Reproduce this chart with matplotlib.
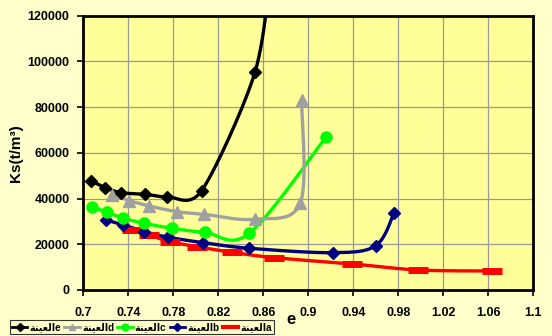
import numpy as np
import matplotlib
matplotlib.use("Agg")
import matplotlib.pyplot as plt
from matplotlib.lines import Line2D

# void ratio e vs Ks for each sample
e_a = [0.743, 0.758, 0.777, 0.801, 0.832, 0.8695, 0.9393, 0.9975, 1.063]
ks_a = [26260, 24070, 21140, 18950, 16500, 14140, 11380, 8750, 8310]

e_b = [0.7202, 0.7356, 0.7542, 0.7756, 0.8067, 0.8476, 0.9222, 0.9599, 0.9762]
ks_b = [30630, 28450, 25510, 23060, 20700, 18250, 16320, 19390, 33560]

e_c = [0.7074, 0.7208, 0.7356, 0.7542, 0.7786, 0.8082, 0.8476, 0.9157]
ks_c = [36460, 34000, 31380, 29190, 27000, 25250, 24810, 66830]

e_d = [0.7258, 0.7409, 0.7587, 0.783, 0.8073, 0.8526, 0.8929, 0.894]
ks_d = [41575, 39080, 36760, 34270, 33110, 30930, 38070, 83150]

e_e = [0.7069, 0.7193, 0.7335, 0.7548, 0.7747, 0.8052, 0.8526, 0.868]
ks_e = [47700, 44770, 42580, 41860, 40830, 43460, 95270, 145000]

x_ticks = [0.7, 0.74, 0.78, 0.82, 0.86, 0.9, 0.94, 0.98, 1.02, 1.06, 1.1]
y_ticks = [0, 20000, 40000, 60000, 80000, 100000, 120000]

# "العينة" in presentation forms, laid out left to right
SAMPLE = "\uFE94\uFEE8\uFEF4\uFECC\uFEDF\uFE8D"

XMIN, XMAX, YMAX = 0.7, 1.1, 120000
W_PX, H_PX = 450.0, 274.3


def smooth(xs, ys, n=30, k=6.0):
    """Smoothed line: Bezier through the points, built in screen units."""
    X = (np.asarray(xs) - XMIN) / (XMAX - XMIN) * W_PX
    Y = np.asarray(ys) / YMAX * H_PX
    P = np.column_stack([X, Y])
    out = [P[0]]
    t = np.linspace(0, 1, n)[1:]
    for i in range(len(P) - 1):
        p0 = P[max(i - 1, 0)]
        p1, p2 = P[i], P[i + 1]
        p3 = P[min(i + 2, len(P) - 1)]
        c1 = p1 + (p2 - p0) / k
        c2 = p2 - (p3 - p1) / k
        for tt in t:
            b = ((1 - tt) ** 3) * p1 + 3 * ((1 - tt) ** 2) * tt * c1 \
                + 3 * (1 - tt) * tt ** 2 * c2 + tt ** 3 * p2
            out.append(b)
    out = np.array(out)
    return XMIN + out[:, 0] / W_PX * (XMAX - XMIN), out[:, 1] / H_PX * YMAX


plt.rcParams['font.family'] = ['Liberation Sans', 'DejaVu Sans']
plt.rcParams['font.weight'] = 'bold'

fig = plt.figure(figsize=(5.52, 3.36), dpi=100, facecolor='#FFFFCC')
ax = fig.add_axes([0.151, 0.137, 0.815, 0.816])
ax.set_facecolor('#FFFF99')

series = [
    (e_a, ks_a, 'red', '_', 14, dict(markeredgewidth=5)),
    (e_b, ks_b, '#000080', 'D', 6, {}),
    (e_c, ks_c, '#00FF00', 'o', 8, {}),
    (e_d, ks_d, '#A0A0A0', '^', 8, {}),
    (e_e, ks_e, 'black', 'D', 6, {}),
]
for xs, ys, col, mk, ms, extra in series:
    sx, sy = smooth(xs, ys, k=7.0 if col == 'black' else 6.0)
    ax.plot(sx, sy, color=col, lw=2.4, solid_capstyle='round', zorder=3)
    ax.plot(xs, ys, ls='none', marker=mk, ms=ms, color=col, zorder=4, **extra)

ax.set_xlim(XMIN, XMAX)
ax.set_ylim(0, YMAX)
ax.set_xticks(x_ticks)
ax.set_yticks(y_ticks)
ax.set_xticklabels([f"{v:g}" for v in x_ticks])
ax.set_yticklabels([str(v) for v in y_ticks])
ax.tick_params(axis='both', direction='out', length=4, width=1.2, labelsize=9)
ax.tick_params(axis='x', pad=8)
ax.tick_params(axis='y', pad=6)
ax.grid(True, color='#999999', lw=0.9)
ax.set_axisbelow(True)
for sp in ax.spines.values():
    sp.set_color('black')
    sp.set_linewidth(2)

ax.set_ylabel("Ks(t/m³)", fontsize=11, fontweight='bold', labelpad=3)
fig.text(0.528, 0.048, "e", fontsize=12, fontweight='bold', ha='center', va='center')

handles = [
    Line2D([], [], color='black', marker='D', ms=4, lw=2),
    Line2D([], [], color='#A0A0A0', marker='^', ms=5, lw=2),
    Line2D([], [], color='#00FF00', marker='o', ms=5, lw=2),
    Line2D([], [], color='#000080', marker='D', ms=4, lw=2),
    Line2D([], [], color='red', lw=3),
]
labels = [SAMPLE + s for s in ['e', 'd', 'c', 'b', 'a']]
leg = fig.legend(handles, labels, loc='lower left', bbox_to_anchor=(0.018, 0.006),
                 ncol=5, fontsize=7, frameon=True, fancybox=False,
                 handlelength=1.6, handletextpad=0.2, columnspacing=0.35,
                 borderpad=0.2, borderaxespad=0)
leg.get_frame().set_edgecolor('black')
leg.get_frame().set_facecolor('#FFFFCC')
leg.get_frame().set_linewidth(0.8)

fig.savefig("out.png", dpi=100, facecolor=fig.get_facecolor())
